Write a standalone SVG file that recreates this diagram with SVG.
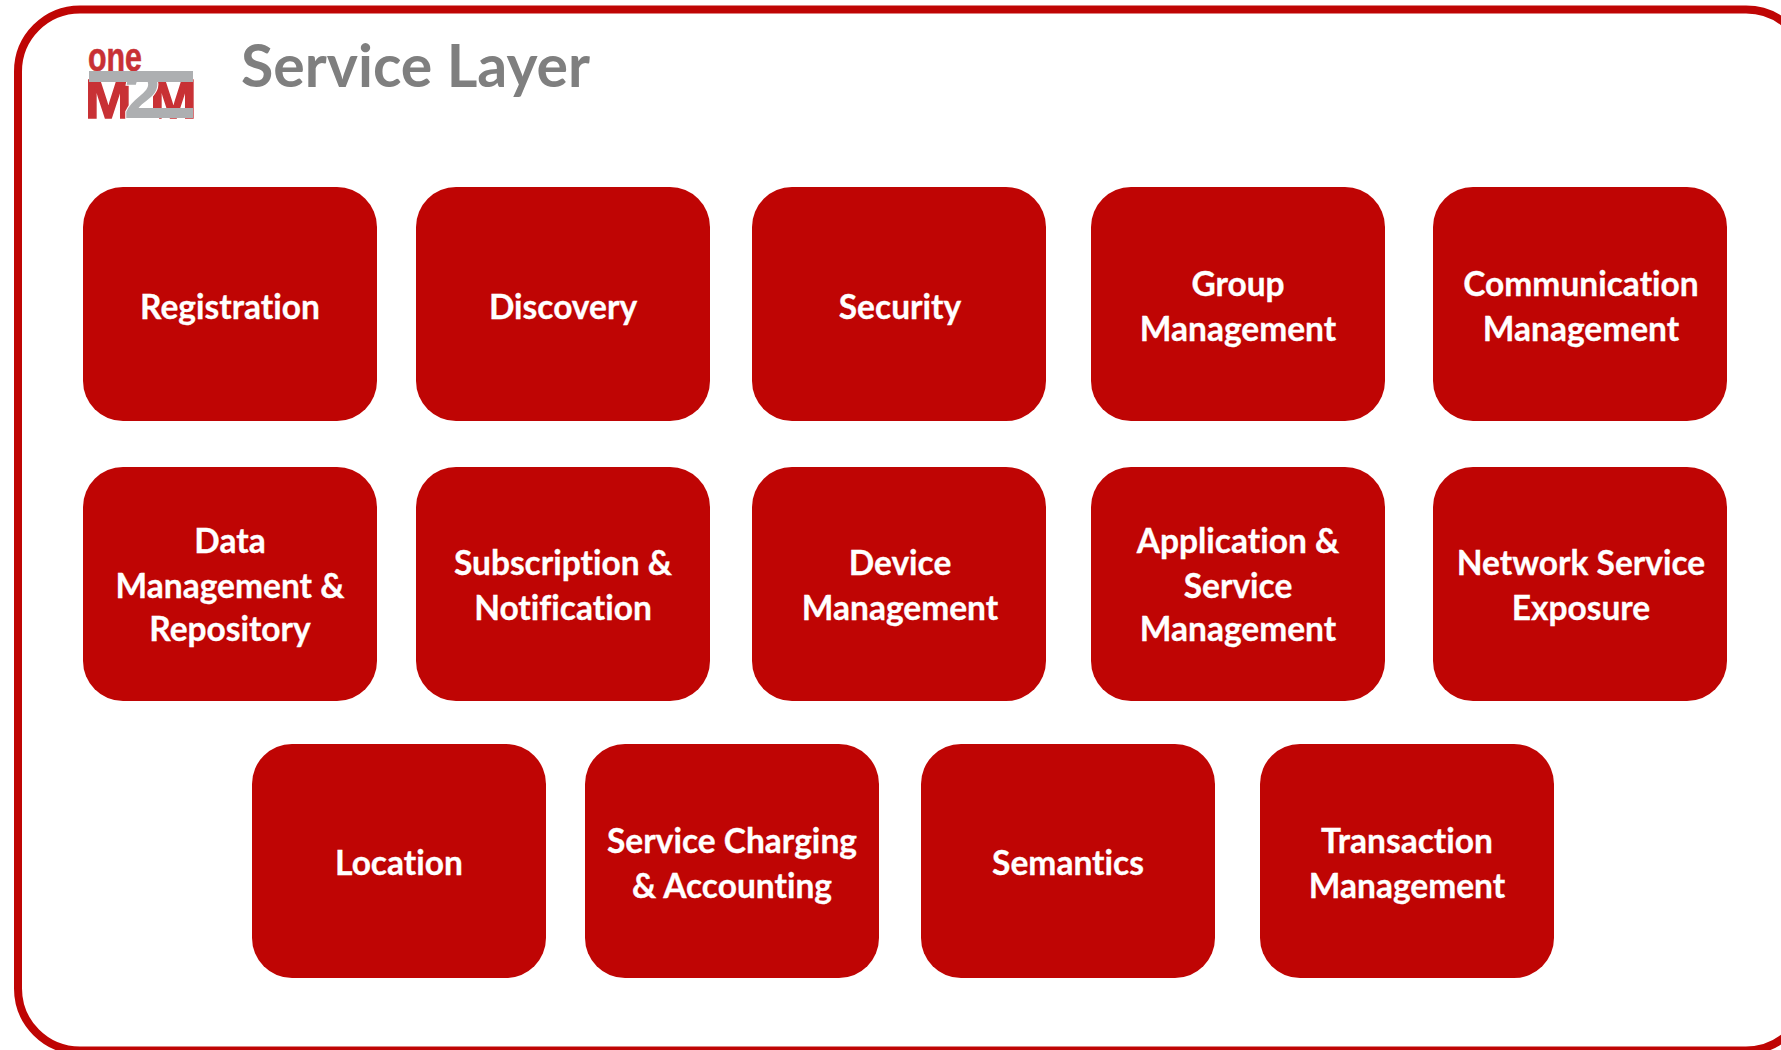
<svg xmlns="http://www.w3.org/2000/svg" width="1781" height="1050" viewBox="0 0 1781 1050">
<style>
.n{fill:#bf0504}
.t{font-family:Lato,"Liberation Sans",sans-serif;font-weight:700;font-size:33.5px;fill:#fff;text-anchor:middle;font-variant-ligatures:none;stroke:#fff;stroke-width:.3px}
.logo{font-family:"Liberation Sans",sans-serif;font-weight:700}
</style>
<defs><rect id="b" width="294" height="234" rx="40" class="n"/></defs>
<rect width="1781" height="1050" fill="#fff"/>
<rect id="frame" x="18" y="9.500" width="1790" height="1041" rx="62" fill="#fff" stroke="#bf0504" stroke-width="8"/>
<g id="logo">
<text class="logo" x="88" y="71" font-size="40" fill="#c83135" stroke="#c83135" stroke-width=".6" textLength="54" lengthAdjust="spacingAndGlyphs">one</text>
<text class="logo" y="118" font-size="56" fill="#c83135" stroke="#c83135" stroke-width="1.500"><tspan x="85">M</tspan><tspan x="150">M</tspan><tspan x="124" font-size="66" fill="#adafb1" stroke="#fff" stroke-width="2" paint-order="stroke">2</tspan></text>
<rect x="89" y="71" width="104" height="11" fill="#adafb1"/>
<rect x="128" y="108" width="65" height="10" fill="#adafb1"/>
</g>
<text id="title" x="241" y="87" font-family="Lato,'Liberation Sans',sans-serif" font-weight="700" font-size="59" fill="#7f7f7f" style="font-variant-ligatures:none">Service Layer</text>
<g id="connectors"/>
<g id="n1"><use href="#b" x="83" y="187"/><text class="t" x="230" y="319">Registration</text></g>
<g id="n2"><use href="#b" x="416" y="187"/><text class="t" x="563" y="319">Discovery</text></g>
<g id="n3"><use href="#b" x="752" y="187"/><text class="t" x="900" y="319">Security</text></g>
<g id="n4"><use href="#b" x="1091" y="187"/><text class="t" x="1238" y="296">Group</text><text class="t" x="1238" y="341">Management</text></g>
<g id="n5"><use href="#b" x="1433" y="187"/><text class="t" x="1581" y="296">Communication</text><text class="t" x="1581" y="341">Management</text></g>
<g id="n6"><use href="#b" x="83" y="467"/><text class="t" x="230" y="553">Data</text><text class="t" x="230" y="598">Management &amp;</text><text class="t" x="230" y="641">Repository</text></g>
<g id="n7"><use href="#b" x="416" y="467"/><text class="t" x="563" y="575">Subscription &amp;</text><text class="t" x="563" y="620">Notification</text></g>
<g id="n8"><use href="#b" x="752" y="467"/><text class="t" x="900" y="575">Device</text><text class="t" x="900" y="620">Management</text></g>
<g id="n9"><use href="#b" x="1091" y="467"/><text class="t" x="1238" y="553">Application &amp;</text><text class="t" x="1238" y="598">Service</text><text class="t" x="1238" y="641">Management</text></g>
<g id="n10"><use href="#b" x="1433" y="467"/><text class="t" x="1581" y="575">Network Service</text><text class="t" x="1581" y="620">Exposure</text></g>
<g id="n11"><use href="#b" x="252" y="744"/><text class="t" x="399" y="875">Location</text></g>
<g id="n12"><use href="#b" x="585" y="744"/><text class="t" x="732" y="853">Service Charging</text><text class="t" x="732" y="898">&amp; Accounting</text></g>
<g id="n13"><use href="#b" x="921" y="744"/><text class="t" x="1068" y="875">Semantics</text></g>
<g id="n14"><use href="#b" x="1260" y="744"/><text class="t" x="1407" y="853">Transaction</text><text class="t" x="1407" y="898">Management</text></g>
</svg>
